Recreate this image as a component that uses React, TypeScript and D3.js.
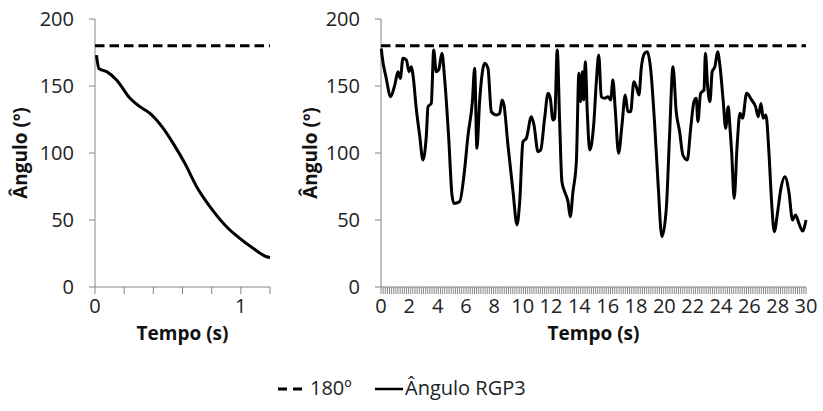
import React from "react";
import * as d3 from "d3";

// Left panel: quick drop (0 – 1.2 s)
const leftTime = [0.01, 0.027, 0.08, 0.148, 0.24, 0.308, 0.377, 0.468, 0.536, 0.616, 0.697, 0.788, 0.902, 0.993, 1.084, 1.176, 1.2];
const leftAngle = [173, 163, 160.7, 154.5, 140.8, 134.6, 129.6, 118.4, 107.2, 92.3, 74.9, 60, 45, 36.3, 28.9, 22.6, 22];

// Right panel: 0 – 30 s
const rightTime = [
  0.02, 0.07, 0.37, 0.68, 0.97, 1.2, 1.36, 1.55, 1.79, 1.98, 2.14, 2.26, 2.49, 2.73, 2.96, 3.2, 3.32, 3.55, 3.72, 3.9,
  4.07, 4.3, 4.49, 4.78, 5.01, 5.15, 5.55, 5.86, 6.14, 6.45, 6.61, 6.77, 6.96, 7.32, 7.55, 7.79, 8.14, 8.38, 8.54, 8.68,
  8.96, 9.32, 9.6, 9.79, 10.02, 10.26, 10.61, 10.8, 11.08, 11.27, 11.55, 11.79, 11.95, 12.14, 12.26, 12.44, 12.61, 12.77, 13.01, 13.2,
  13.36, 13.55, 13.79, 13.97, 14.09, 14.21, 14.31, 14.42, 14.56, 14.73, 15.03, 15.2, 15.37, 15.55, 15.79, 16.02, 16.21, 16.37, 16.53, 16.77,
  17.01, 17.24, 17.43, 17.62, 17.85, 18.02, 18.21, 18.37, 18.61, 18.8, 19.03, 19.32, 19.55, 19.83, 20.14, 20.37, 20.61, 20.84, 21.08, 21.31,
  21.62, 21.86, 22.09, 22.25, 22.37, 22.56, 22.8, 22.9, 23.05, 23.22, 23.38, 23.57, 23.76, 23.92, 24.16, 24.33, 24.51, 24.63, 24.75, 24.93,
  25.14, 25.34, 25.52, 25.81, 26.16, 26.44, 26.63, 26.82, 26.98, 27.17, 27.38, 27.57, 27.76, 28.0, 28.23, 28.51, 28.79, 29.05, 29.26, 29.5,
  29.76, 30.0,
];
const rightAngle = [
  178, 173, 155.7, 142, 150.7, 160.7, 155.7, 170.7, 169.4, 160.7, 164.4, 158, 133, 113, 94.8, 113, 134.6, 137, 176.9, 160.7,
  162, 174.4, 155.7, 111, 68.7, 62.4, 63.7, 83.6, 113, 138.3, 163.2, 103.5, 138.3, 167, 163.2, 130.8, 128.4, 129.6, 139.6, 135.8,
  106, 71.1, 46.3, 63.7, 108.4, 111, 127.1, 120.9, 101, 102.2, 125.9, 144.5, 140.8, 124.6, 125.9, 176.9, 123.4, 78.6, 69.9, 63.7,
  52.5, 71.1, 93.5, 159.5, 138.3, 160.7, 139.6, 168.1, 130.8, 102.2, 123.4, 153.2, 173.1, 142, 140.8, 142, 139.6, 154.5, 133.4, 99.8,
  120.9, 143.3, 130.8, 130.8, 153.2, 149.5, 143.3, 163.2, 174.4, 175.6, 163.2, 120.9, 78.6, 37.5, 58.7, 113.4, 164.4, 130.8, 115.9, 98.5,
  94.8, 118.4, 138.3, 140.8, 123.4, 144.5, 147, 174.4, 150.7, 138.3, 160.7, 164.4, 175.6, 165.7, 138.3, 118.4, 134.6, 119.6, 101, 66.2,
  106, 129.6, 125.9, 144.5, 139.6, 134.6, 127.1, 137, 125.9, 128.4, 101, 63.7, 41.3, 56.2, 73.6, 82.3, 71.1, 50, 53.7, 47.5,
  41.8, 50,
];

const refAngle = 180;
const yTicks = [0, 50, 100, 150, 200];
const leftXLabels = [0, 1];
const rightXLabels = d3.range(0, 31, 2);
const seriesNames = ["180º", "Ângulo RGP3"];

const FONT = "'Open Sans', sans-serif";
const AXIS = "#868686";

type PanelProps = {
  x0: number; x1: number; xMax: number; minorStep: number; labels: number[];
  time: number[]; angle: number[]; ytitleX: number;
};

function Panel({ x0, x1, xMax, minorStep, labels, time, angle, ytitleX }: PanelProps) {
  const top = 19, bottom = 287;
  const x = d3.scaleLinear().domain([0, xMax]).range([x0, x1]);
  const y = d3.scaleLinear().domain([0, 200]).range([bottom, top]);
  const line = d3.line<number>().x((_, i) => x(time[i])).y((d) => y(d)).curve(d3.curveMonotoneX);
  const minor = d3.range(0, xMax + 1e-6, minorStep);
  return (
    <g>
      <line x1={x0} x2={x0} y1={top} y2={bottom} stroke={AXIS} strokeWidth={1} />
      {yTicks.map((t) => (
        <g key={t}>
          <line x1={x0 - 6} x2={x0} y1={y(t)} y2={y(t)} stroke={AXIS} />
          <text x={x0 - 21} y={y(t)} dy="0.36em" textAnchor="end" fontSize={20} fontFamily={FONT} fill="#222">{t}</text>
        </g>
      ))}
      <line x1={x0} x2={x1} y1={bottom} y2={bottom} stroke={AXIS} strokeWidth={1} />
      {minor.map((t, i) => (
        <line key={i} x1={x(t)} x2={x(t)} y1={bottom} y2={bottom + 7} stroke={AXIS} strokeWidth={1} />
      ))}
      {labels.map((t) => (
        <text key={t} x={x(t)} y={306} dy="0.36em" textAnchor="middle" fontSize={20} fontFamily={FONT} fill="#222">{t}</text>
      ))}
      <text x={(x0 + x1) / 2} y={333} dy="0.36em" textAnchor="middle" fontSize={19} fontWeight="bold" fontFamily={FONT} fill="#111">Tempo (s)</text>
      <text transform={`translate(${ytitleX},153) rotate(-90)`} dy="0.36em" textAnchor="middle" fontSize={19} fontWeight="bold" fontFamily={FONT} fill="#111">Ângulo (º)</text>
      <line x1={x0} x2={x1} y1={y(refAngle)} y2={y(refAngle)} stroke="#000" strokeWidth={3} strokeDasharray="9.5,5" />
      <path d={line(angle) || ""} fill="none" stroke="#000" strokeWidth={3} strokeLinejoin="round" />
    </g>
  );
}

export default function App() {
  return (
    <svg width={823} height={411} style={{ position: "absolute", left: 0, top: 0, background: "#fff" }}>
      <rect width={823} height={411} fill="#fff" />
      <Panel x0={95} x1={270} xMax={1.2} minorStep={0.2} labels={leftXLabels} time={leftTime} angle={leftAngle} ytitleX={20} />
      <Panel x0={381} x1={806} xMax={30} minorStep={0.15} labels={rightXLabels} time={rightTime} angle={rightAngle} ytitleX={310} />
      <g>
        <line x1={278} x2={304} y1={389} y2={389} stroke="#000" strokeWidth={3} strokeDasharray="9,6" />
        <text x={310} y={388} dy="0.36em" fontSize={20} fontFamily={FONT} fill="#222">{seriesNames[0]}</text>
        <line x1={375} x2={403} y1={389} y2={389} stroke="#000" strokeWidth={2.5} />
        <text x={405} y={388} dy="0.36em" fontSize={20} fontFamily={FONT} fill="#222">{seriesNames[1]}</text>
      </g>
    </svg>
  );
}
